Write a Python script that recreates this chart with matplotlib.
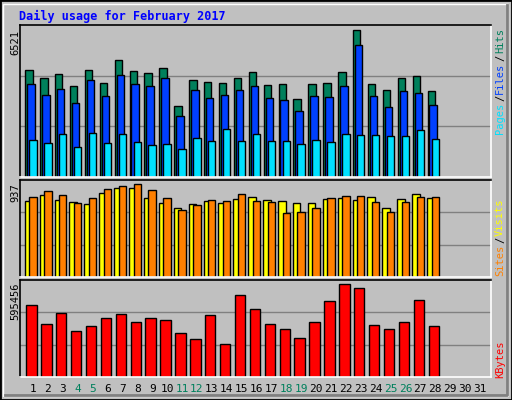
import matplotlib
matplotlib.use("Agg")
import matplotlib.pyplot as plt
from matplotlib.patches import Rectangle
import numpy as np

days = list(range(1, 32))
hits = [4750,4396,4573,4042,4750,4175,5193,4706,4618,4839,3157,4308,4219,4175,4396,4662,4087,4131,3467,4131,4175,4662,6521,4131,3865,4396,4485,3821]
files = [4131,3644,3910,3290,4308,3600,4529,4131,4042,4396,2715,3865,3511,3644,3865,4042,3511,3423,2936,3600,3556,4042,5857,3600,3113,3821,3733,3201]
pages = [1652,1520,1918,1343,1962,1520,1918,1564,1431,1475,1254,1741,1608,2139,1608,1918,1608,1608,1475,1652,1564,1918,1874,1874,1829,1829,2095,1697]
visits = [764,825,774,754,733,845,896,896,794,744,693,733,764,744,784,805,774,764,744,744,784,794,774,805,693,784,835,794]
sites = [805,866,825,744,794,886,917,937,876,794,672,723,774,764,835,764,754,642,652,693,794,815,815,754,652,754,805,805]
kbytes = [458500,341000,406000,295500,328000,374000,400000,348000,374000,367000,282500,243000,393000,211000,524000,432000,341000,308600,250000,348000,484600,595456,569000,334600,308600,348000,491000,328000]
weekend = [4,5,11,12,18,19,25,26]

C_HITS, C_FILES, C_PAGES = "#00805C", "#0040FF", "#00E0FF"
C_VIS, C_SITES, C_KB = "#FFFF00", "#FF8000", "#FF0000"
BG = "#C0C0C0"

W, H = 512, 400
fig = plt.figure(figsize=(W/100, H/100), dpi=100, facecolor=BG)

def fx(px): return px / W
def fy(py): return 1 - py / H

fig.patches.append(Rectangle((0, 0), 1, 1, transform=fig.transFigure, fill=False, ec="black", lw=2))
fig.patches.append(Rectangle((fx(3), fy(396)), fx(505), 392/H, transform=fig.transFigure, fill=False, ec="white", lw=1))
fig.lines.append(plt.Line2D([fx(5), fx(507), fx(507)], [fy(395), fy(395), fy(5)], transform=fig.transFigure, color="#808080", lw=2))

fig.text(fx(19), fy(16), "Daily usage for February 2017", color="#0000FF", fontsize=8.5,
         fontweight="bold", family="DejaVu Sans Mono", va="center", ha="left")

xl = (0.13, 31.74)

def panel(top, bot):
    ax = fig.add_axes([fx(20), fy(bot), fx(491) - fx(20), (bot - top) / H])
    ax.set_facecolor(BG)
    ax.set_xlim(*xl)
    ax.set_xticks([]); ax.set_yticks([])
    for s in ("top", "left"):
        ax.spines[s].set_color("black")
    for s in ("bottom", "right"):
        ax.spines[s].set_color("white")
    for sp in ax.spines.values():
        sp.set_linewidth(1.2)
    return ax

def grids(ax, top):
    for f in (1/3, 2/3):
        ax.axhline(top * f, color="#808080", lw=1, zorder=0)

d = np.arange(1, len(hits) + 1)
kw = dict(edgecolor="black", linewidth=1, zorder=2)

ax1 = panel(25, 177)
t1 = max(hits) * 1.035
ax1.set_ylim(0, t1); grids(ax1, t1)
ax1.bar(d - 0.27, hits, 0.5, color=C_HITS, **kw)
ax1.bar(d - 0.14, files, 0.5, color=C_FILES, **kw)
ax1.bar(d + 0.0, pages, 0.5, color=C_PAGES, **kw)

ax2 = panel(180, 277)
t2 = max(sites) * 1.04
ax2.set_ylim(0, t2); grids(ax2, t2)
ax2.bar(d - 0.3, visits, 0.5, color=C_VIS, **kw)
ax2.bar(d + 0.0, sites, 0.5, color=C_SITES, **kw)

ax3 = panel(280, 377)
t3 = max(kbytes) * 1.04
ax3.set_ylim(0, t3); grids(ax3, t3)
ax3.bar(d - 0.1, kbytes, 0.7, color=C_KB, **kw)

mono = dict(family="DejaVu Sans Mono", fontsize=7.5, rotation=90)
fig.text(fx(15), fy(30), str(max(hits)), va="top", ha="center", **mono)
fig.text(fx(15), fy(183), str(max(sites)), va="top", ha="center", **mono)
fig.text(fx(15), fy(282), str(max(kbytes)), va="top", ha="center", **mono)

def right_label(parts, ytop):
    y = ytop
    for txt, col in parts:
        fig.text(fx(500), fy(y), txt, color=col, va="top", ha="center", **mono)
        y += len(txt) * 6.1 + 2

right_label([("Hits", C_HITS), ("/", "black"), ("Files", C_FILES), ("/", "black"), ("Pages", C_PAGES)], 28)
right_label([("Visits", C_VIS), ("/", "black"), ("Sites", C_SITES)], 198)
right_label([("KBytes", C_KB)], 340)

for i in days:
    xpix = 20 + (i - xl[0]) / (xl[1] - xl[0]) * 471
    fig.text(fx(xpix), fy(389), str(i), color=C_HITS if i in weekend else "black",
             family="DejaVu Sans Mono", fontsize=8, ha="center", va="center")

fig.savefig("out.png", dpi=100, facecolor=BG)
